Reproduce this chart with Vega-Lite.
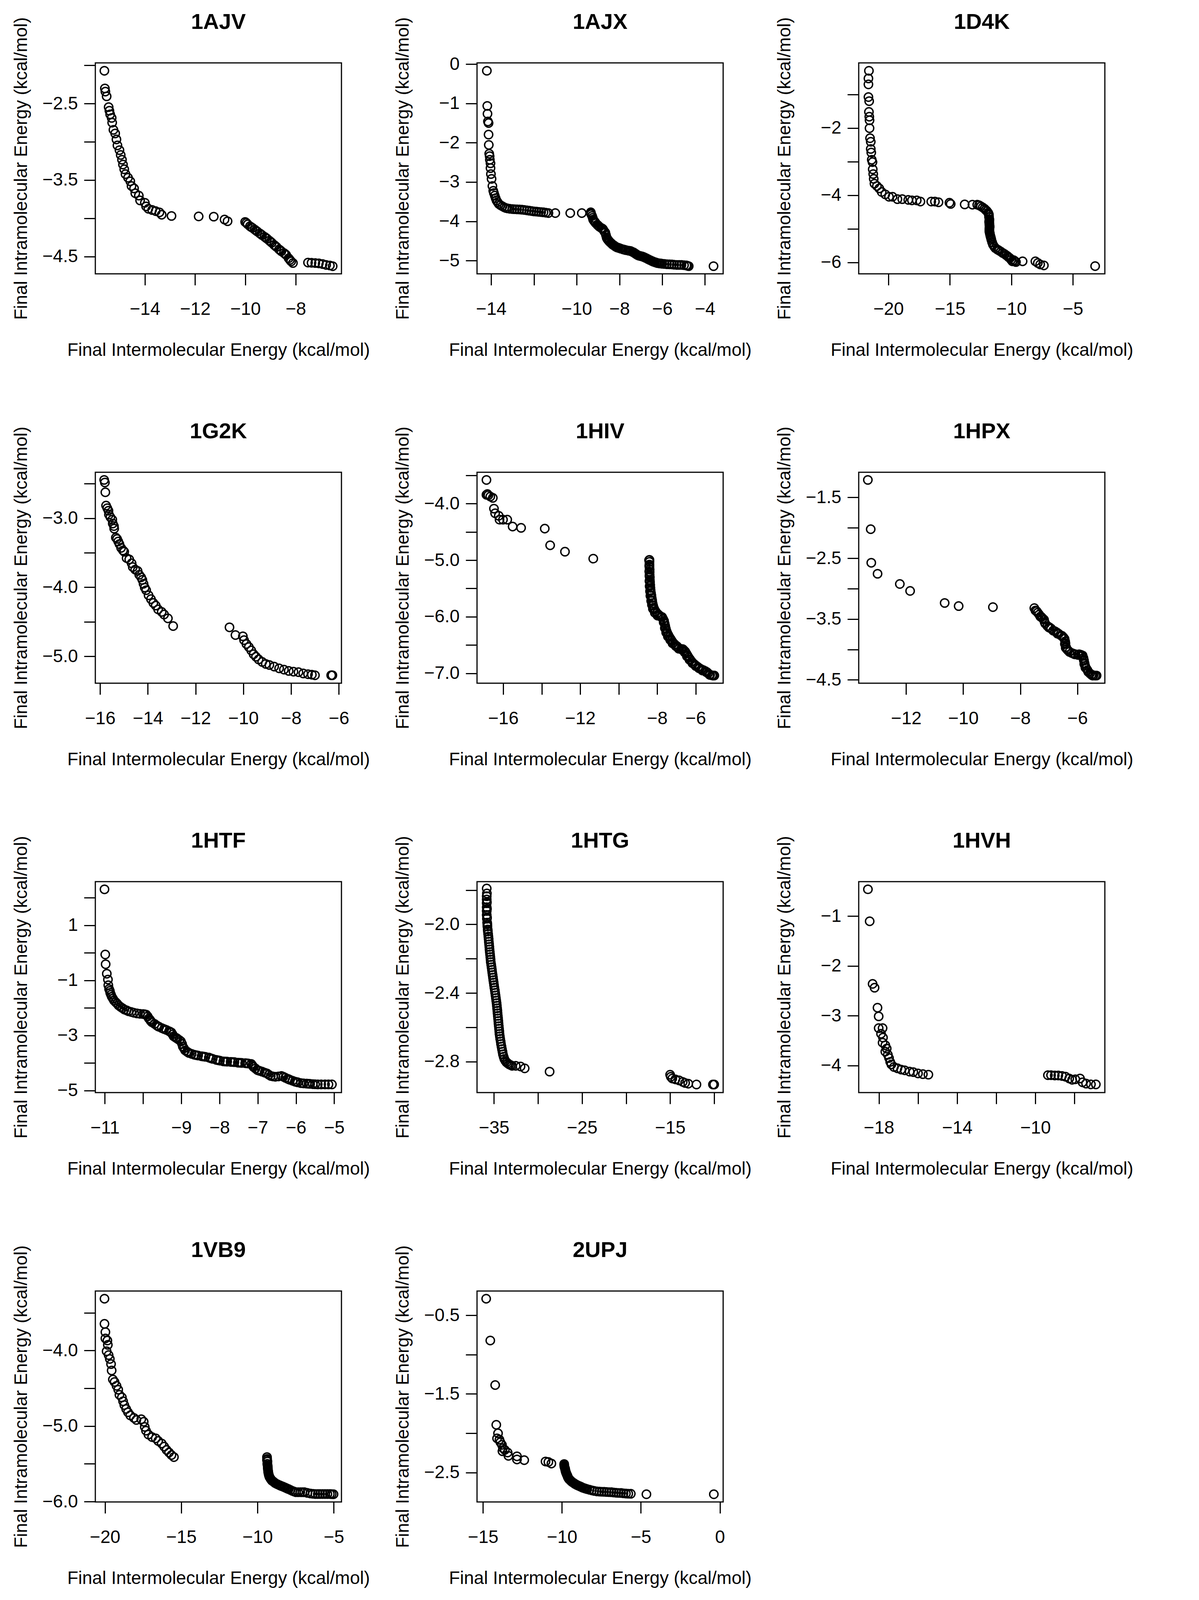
{
  "$schema": "https://vega.github.io/schema/vega-lite/v6.json",
  "background": "white",
  "padding": {"left": 29, "top": 27, "right": 0, "bottom": 0},
  "columns": 3,
  "spacing": {"row": 508, "column": 347},
  "bounds": "flush",
  "config": {
    "font": "Liberation Sans",
    "view": {"stroke": "black", "strokeWidth": 3, "continuousWidth": 630, "continuousHeight": 540},
    "axis": {
      "domain": false, "grid": false, "ticks": true, "tickSize": 29, "tickWidth": 3, "tickColor": "black",
      "labelFont": "Liberation Sans", "labelFontSize": 46, "labelColor": "black",
      "labelOverlap": false, "labelFlush": false, "labelBound": false,
      "titleFont": "Liberation Sans", "titleFontSize": 46, "titleFontWeight": "normal", "titleColor": "black"
    },
    "axisX": {"labelPadding": 39, "titleY": 209, "titleBaseline": "alphabetic", "titleAnchor": "middle"},
    "axisY": {"labelPadding": 16, "titleX": -176, "titleBaseline": "alphabetic", "labelAngle": 0, "titleAnchor": "middle"},
    "title": {"font": "Liberation Sans", "fontSize": 56, "fontWeight": "bold", "color": "black", "anchor": "middle", "frame": "group", "baseline": "alphabetic", "offset": -42},
    "point": {"shape": "circle", "filled": false, "size": 460, "strokeWidth": 3.5, "color": "black", "opacity": 1}
  },
  "concat": [
    {
      "title": "1AJV",
      "data": {"values": [
        {"inter": -15.61, "intra": -2.072}, {"inter": -15.59, "intra": -2.303}, {"inter": -15.57, "intra": -2.344}, {"inter": -15.52, "intra": -2.406},
        {"inter": -15.44, "intra": -2.547}, {"inter": -15.41, "intra": -2.594}, {"inter": -15.38, "intra": -2.641}, {"inter": -15.32, "intra": -2.688},
        {"inter": -15.30, "intra": -2.75}, {"inter": -15.25, "intra": -2.844}, {"inter": -15.18, "intra": -2.891}, {"inter": -15.13, "intra": -2.969},
        {"inter": -15.09, "intra": -3.047}, {"inter": -15.01, "intra": -3.109}, {"inter": -14.96, "intra": -3.172}, {"inter": -14.91, "intra": -3.234},
        {"inter": -14.87, "intra": -3.297}, {"inter": -14.82, "intra": -3.359}, {"inter": -14.77, "intra": -3.422}, {"inter": -14.67, "intra": -3.469},
        {"inter": -14.58, "intra": -3.516}, {"inter": -14.53, "intra": -3.578}, {"inter": -14.43, "intra": -3.609}, {"inter": -14.38, "intra": -3.672},
        {"inter": -14.24, "intra": -3.703}, {"inter": -14.19, "intra": -3.766}, {"inter": -14.00, "intra": -3.797}, {"inter": -13.95, "intra": -3.844},
        {"inter": -13.86, "intra": -3.875}, {"inter": -13.71, "intra": -3.891}, {"inter": -13.57, "intra": -3.906}, {"inter": -13.42, "intra": -3.922},
        {"inter": -13.33, "intra": -3.953}, {"inter": -12.94, "intra": -3.969}, {"inter": -11.86, "intra": -3.975}, {"inter": -11.26, "intra": -3.978},
        {"inter": -10.83, "intra": -4.016}, {"inter": -10.71, "intra": -4.038},
        {"inter": -10.01, "intra": -4.047}, {"inter": -9.96, "intra": -4.06}, {"inter": -9.91, "intra": -4.078}, {"inter": -9.82, "intra": -4.103},
        {"inter": -9.77, "intra": -4.115}, {"inter": -9.72, "intra": -4.125}, {"inter": -9.63, "intra": -4.147}, {"inter": -9.58, "intra": -4.16},
        {"inter": -9.53, "intra": -4.172}, {"inter": -9.43, "intra": -4.197}, {"inter": -9.38, "intra": -4.208}, {"inter": -9.34, "intra": -4.219},
        {"inter": -9.24, "intra": -4.241}, {"inter": -9.19, "intra": -4.254}, {"inter": -9.14, "intra": -4.266}, {"inter": -9.05, "intra": -4.291},
        {"inter": -9.00, "intra": -4.305}, {"inter": -8.95, "intra": -4.319}, {"inter": -8.86, "intra": -4.347}, {"inter": -8.81, "intra": -4.361},
        {"inter": -8.76, "intra": -4.375}, {"inter": -8.66, "intra": -4.406}, {"inter": -8.61, "intra": -4.419}, {"inter": -8.57, "intra": -4.431},
        {"inter": -8.47, "intra": -4.453}, {"inter": -8.42, "intra": -4.466}, {"inter": -8.38, "intra": -4.478}, {"inter": -8.28, "intra": -4.522},
        {"inter": -8.23, "intra": -4.543}, {"inter": -8.18, "intra": -4.563}, {"inter": -8.11, "intra": -4.584},
        {"inter": -7.51, "intra": -4.578}, {"inter": -7.37, "intra": -4.581}, {"inter": -7.22, "intra": -4.584}, {"inter": -7.08, "intra": -4.588},
        {"inter": -6.93, "intra": -4.597}, {"inter": -6.79, "intra": -4.609}, {"inter": -6.64, "intra": -4.616}, {"inter": -6.53, "intra": -4.625}
      ]},
      "mark": "point",
      "encoding": {
        "x": {"field": "inter", "type": "quantitative", "title": "Final Intermolecular Energy (kcal/mol)",
              "scale": {"domain": [-15.97, -6.18], "nice": false, "zero": false},
              "axis": {"values": [-14, -12, -10, -8], "format": "d"}},
        "y": {"field": "intra", "type": "quantitative", "title": "Final Intramolecular Energy (kcal/mol)",
              "scale": {"domain": [-4.725, -1.969], "nice": false, "zero": false},
              "axis": {"values": [-2, -2.5, -3, -3.5, -4, -4.5], "format": ".1f", "labelExpr": "indexof([-2, -3, -4], datum.value) >= 0 ? '' : datum.label"}}
      }
    },
    {
      "title": "1AJX",
      "data": {"values": [
        {"inter": -14.20, "intra": -0.170}, {"inter": -14.18, "intra": -1.064}, {"inter": -14.17, "intra": -1.265}, {"inter": -14.15, "intra": -1.46},
        {"inter": -14.12, "intra": -1.50}, {"inter": -14.12, "intra": -1.794}, {"inter": -14.11, "intra": -2.056}, {"inter": -14.09, "intra": -2.281},
        {"inter": -14.07, "intra": -2.342}, {"inter": -14.06, "intra": -2.433}, {"inter": -14.03, "intra": -2.524}, {"inter": -14.03, "intra": -2.646},
        {"inter": -14.01, "intra": -2.798}, {"inter": -13.98, "intra": -2.920}, {"inter": -13.94, "intra": -3.102}, {"inter": -13.90, "intra": -3.224},
        {"inter": -13.87, "intra": -3.28}, {"inter": -13.83, "intra": -3.345}, {"inter": -13.79, "intra": -3.41}, {"inter": -13.75, "intra": -3.467},
        {"inter": -13.70, "intra": -3.51}, {"inter": -13.64, "intra": -3.558}, {"inter": -13.56, "intra": -3.59}, {"inter": -13.47, "intra": -3.619},
        {"inter": -13.38, "intra": -3.645}, {"inter": -13.30, "intra": -3.662}, {"inter": -13.22, "intra": -3.672}, {"inter": -13.13, "intra": -3.680},
        {"inter": -13.01, "intra": -3.688}, {"inter": -12.90, "intra": -3.692}, {"inter": -12.79, "intra": -3.695}, {"inter": -12.68, "intra": -3.698},
        {"inter": -12.56, "intra": -3.704}, {"inter": -12.45, "intra": -3.710}, {"inter": -12.33, "intra": -3.72}, {"inter": -12.22, "intra": -3.729},
        {"inter": -12.11, "intra": -3.738}, {"inter": -12.00, "intra": -3.747}, {"inter": -11.88, "intra": -3.753}, {"inter": -11.77, "intra": -3.759},
        {"inter": -11.66, "intra": -3.765}, {"inter": -11.55, "intra": -3.771}, {"inter": -11.44, "intra": -3.78}, {"inter": -11.32, "intra": -3.79},
        {"inter": -11.00, "intra": -3.79}, {"inter": -10.30, "intra": -3.79}, {"inter": -9.76, "intra": -3.79},
        {"inter": -9.34, "intra": -3.771}, {"inter": -9.32, "intra": -3.82}, {"inter": -9.28, "intra": -3.863}, {"inter": -9.23, "intra": -3.954},
        {"inter": -9.17, "intra": -4.00}, {"inter": -9.11, "intra": -4.045}, {"inter": -9.03, "intra": -4.09}, {"inter": -8.94, "intra": -4.136},
        {"inter": -8.85, "intra": -4.17}, {"inter": -8.77, "intra": -4.197}, {"inter": -8.72, "intra": -4.245}, {"inter": -8.66, "intra": -4.288},
        {"inter": -8.60, "intra": -4.410}, {"inter": -8.55, "intra": -4.46}, {"inter": -8.49, "intra": -4.501}, {"inter": -8.40, "intra": -4.55},
        {"inter": -8.32, "intra": -4.592}, {"inter": -8.24, "intra": -4.62}, {"inter": -8.15, "intra": -4.653}, {"inter": -8.04, "intra": -4.675},
        {"inter": -7.93, "intra": -4.696}, {"inter": -7.82, "intra": -4.715}, {"inter": -7.70, "intra": -4.732}, {"inter": -7.58, "intra": -4.745},
        {"inter": -7.47, "intra": -4.757}, {"inter": -7.38, "intra": -4.78}, {"inter": -7.30, "intra": -4.805}, {"inter": -7.22, "intra": -4.835},
        {"inter": -7.13, "intra": -4.866}, {"inter": -7.02, "intra": -4.882}, {"inter": -6.91, "intra": -4.897}, {"inter": -6.80, "intra": -4.925},
        {"inter": -6.68, "intra": -4.957}, {"inter": -6.56, "intra": -4.99}, {"inter": -6.45, "intra": -5.018}, {"inter": -6.34, "intra": -5.04},
        {"inter": -6.23, "intra": -5.061}, {"inter": -6.11, "intra": -5.07}, {"inter": -6.00, "intra": -5.079}, {"inter": -5.78, "intra": -5.091},
        {"inter": -5.55, "intra": -5.097}, {"inter": -5.32, "intra": -5.109}, {"inter": -5.10, "intra": -5.109}, {"inter": -4.87, "intra": -5.122},
        {"inter": -4.76, "intra": -5.140}, {"inter": -3.60, "intra": -5.140},
        {"inter": -9.33, "intra": -3.80}, {"inter": -9.25, "intra": -3.91}, {"inter": -9.20, "intra": -3.98}, {"inter": -9.14, "intra": -4.02},
        {"inter": -8.99, "intra": -4.11}, {"inter": -8.81, "intra": -4.18}, {"inter": -8.69, "intra": -4.27}, {"inter": -8.63, "intra": -4.35},
        {"inter": -8.58, "intra": -4.435}, {"inter": -8.52, "intra": -4.48}, {"inter": -8.45, "intra": -4.525}, {"inter": -8.36, "intra": -4.57},
        {"inter": -8.28, "intra": -4.605}, {"inter": -8.20, "intra": -4.636}, {"inter": -8.10, "intra": -4.665}, {"inter": -7.98, "intra": -4.686},
        {"inter": -7.76, "intra": -4.724}, {"inter": -7.52, "intra": -4.751}, {"inter": -7.34, "intra": -4.79}, {"inter": -7.26, "intra": -4.82},
        {"inter": -7.18, "intra": -4.85}, {"inter": -7.08, "intra": -4.875}, {"inter": -6.96, "intra": -4.89}, {"inter": -6.86, "intra": -4.91},
        {"inter": -6.74, "intra": -4.94}, {"inter": -6.62, "intra": -4.975}, {"inter": -6.50, "intra": -5.005}, {"inter": -6.40, "intra": -5.03},
        {"inter": -6.28, "intra": -5.05}, {"inter": -6.17, "intra": -5.066}, {"inter": -6.05, "intra": -5.075}, {"inter": -5.89, "intra": -5.085},
        {"inter": -5.66, "intra": -5.094}, {"inter": -5.44, "intra": -5.103}, {"inter": -5.21, "intra": -5.109}, {"inter": -4.98, "intra": -5.115},
        {"inter": -4.82, "intra": -5.13}
      ]},
      "mark": "point",
      "encoding": {
        "x": {"field": "inter", "type": "quantitative", "title": "Final Intermolecular Energy (kcal/mol)",
              "scale": {"domain": [-14.66, -3.15], "nice": false, "zero": false},
              "axis": {"values": [-14, -12, -10, -8, -6, -4], "format": "d", "labelExpr": "indexof([-12], datum.value) >= 0 ? '' : datum.label"}},
        "y": {"field": "intra", "type": "quantitative", "title": "Final Intramolecular Energy (kcal/mol)",
              "scale": {"domain": [-5.335, 0.03], "nice": false, "zero": false},
              "axis": {"values": [0, -1, -2, -3, -4, -5], "format": "d"}}
      }
    },
    {
      "title": "1D4K",
      "data": {"values": [
        {"inter": -21.59, "intra": -0.295}, {"inter": -21.63, "intra": -0.523}, {"inter": -21.63, "intra": -0.70}, {"inter": -21.63, "intra": -1.078},
        {"inter": -21.57, "intra": -1.199}, {"inter": -21.59, "intra": -1.52}, {"inter": -21.56, "intra": -1.662}, {"inter": -21.54, "intra": -1.769},
        {"inter": -21.54, "intra": -2.004}, {"inter": -21.50, "intra": -2.302}, {"inter": -21.44, "intra": -2.409}, {"inter": -21.44, "intra": -2.623},
        {"inter": -21.40, "intra": -2.73}, {"inter": -21.36, "intra": -2.943}, {"inter": -21.30, "intra": -3.014}, {"inter": -21.28, "intra": -3.228},
        {"inter": -21.24, "intra": -3.370}, {"inter": -21.20, "intra": -3.512}, {"inter": -21.14, "intra": -3.655}, {"inter": -20.94, "intra": -3.726},
        {"inter": -20.75, "intra": -3.797}, {"inter": -20.55, "intra": -3.904}, {"inter": -20.26, "intra": -3.975}, {"inter": -19.96, "intra": -4.046},
        {"inter": -19.67, "intra": -4.046}, {"inter": -19.27, "intra": -4.117}, {"inter": -18.88, "intra": -4.117}, {"inter": -18.39, "intra": -4.139},
        {"inter": -18.09, "intra": -4.153}, {"inter": -17.70, "intra": -4.153}, {"inter": -17.40, "intra": -4.189}, {"inter": -16.52, "intra": -4.189},
        {"inter": -16.22, "intra": -4.189}, {"inter": -15.93, "intra": -4.21}, {"inter": -15.04, "intra": -4.224}, {"inter": -14.94, "intra": -4.26},
        {"inter": -13.80, "intra": -4.274}, {"inter": -13.17, "intra": -4.281},
        {"inter": -12.78, "intra": -4.281}, {"inter": -12.48, "intra": -4.331}, {"inter": -12.19, "intra": -4.402}, {"inter": -11.99, "intra": -4.473},
        {"inter": -11.89, "intra": -4.523}, {"inter": -11.83, "intra": -4.580}, {"inter": -11.81, "intra": -4.794}, {"inter": -11.79, "intra": -4.722},
        {"inter": -11.79, "intra": -4.865}, {"inter": -11.77, "intra": -4.936}, {"inter": -11.79, "intra": -5.007}, {"inter": -11.79, "intra": -5.078},
        {"inter": -11.75, "intra": -5.149}, {"inter": -11.69, "intra": -5.242}, {"inter": -11.63, "intra": -5.327}, {"inter": -11.50, "intra": -5.470},
        {"inter": -11.30, "intra": -5.577}, {"inter": -11.16, "intra": -5.612}, {"inter": -11.00, "intra": -5.648}, {"inter": -10.71, "intra": -5.719},
        {"inter": -10.41, "intra": -5.790}, {"inter": -10.22, "intra": -5.847}, {"inter": -10.12, "intra": -5.875}, {"inter": -9.92, "intra": -5.968},
        {"inter": -9.82, "intra": -5.932}, {"inter": -9.63, "intra": -5.989}, {"inter": -9.09, "intra": -5.968},
        {"inter": -8.05, "intra": -5.968}, {"inter": -7.85, "intra": -6.018}, {"inter": -7.66, "intra": -6.061}, {"inter": -7.36, "intra": -6.089},
        {"inter": -3.19, "intra": -6.11},
        {"inter": -12.63, "intra": -4.30}, {"inter": -12.33, "intra": -4.365}, {"inter": -12.09, "intra": -4.44}, {"inter": -11.86, "intra": -4.55},
        {"inter": -11.82, "intra": -4.65}, {"inter": -11.80, "intra": -4.76}, {"inter": -11.80, "intra": -4.83}, {"inter": -11.78, "intra": -4.90},
        {"inter": -11.78, "intra": -4.97}, {"inter": -11.79, "intra": -5.04}, {"inter": -11.77, "intra": -5.11}, {"inter": -11.72, "intra": -5.20},
        {"inter": -11.66, "intra": -5.28}, {"inter": -11.57, "intra": -5.40}, {"inter": -11.40, "intra": -5.53}, {"inter": -11.08, "intra": -5.63},
        {"inter": -10.86, "intra": -5.68}, {"inter": -10.56, "intra": -5.75}, {"inter": -10.30, "intra": -5.82}, {"inter": -10.02, "intra": -5.92},
        {"inter": -9.72, "intra": -5.96}
      ]},
      "mark": "point",
      "encoding": {
        "x": {"field": "inter", "type": "quantitative", "title": "Final Intermolecular Energy (kcal/mol)",
              "scale": {"domain": [-22.42, -2.40], "nice": false, "zero": false},
              "axis": {"values": [-20, -15, -10, -5], "format": "d"}},
        "y": {"field": "intra", "type": "quantitative", "title": "Final Intramolecular Energy (kcal/mol)",
              "scale": {"domain": [-6.34, -0.06], "nice": false, "zero": false},
              "axis": {"values": [-1, -2, -3, -4, -5, -6], "format": "d", "labelExpr": "indexof([-1, -3, -5], datum.value) >= 0 ? '' : datum.label"}}
      }
    },
    {
      "title": "1G2K",
      "data": {"values": [
        {"inter": -15.83, "intra": -2.444}, {"inter": -15.80, "intra": -2.481}, {"inter": -15.78, "intra": -2.623}, {"inter": -15.75, "intra": -2.816},
        {"inter": -15.70, "intra": -2.853}, {"inter": -15.65, "intra": -2.890}, {"inter": -15.63, "intra": -2.946}, {"inter": -15.57, "intra": -2.983},
        {"inter": -15.49, "intra": -3.020}, {"inter": -15.47, "intra": -3.076}, {"inter": -15.42, "intra": -3.113}, {"inter": -15.41, "intra": -3.150},
        {"inter": -15.34, "intra": -3.280}, {"inter": -15.29, "intra": -3.299}, {"inter": -15.24, "intra": -3.336}, {"inter": -15.19, "intra": -3.373},
        {"inter": -15.12, "intra": -3.429}, {"inter": -15.04, "intra": -3.466}, {"inter": -14.99, "intra": -3.484}, {"inter": -14.89, "intra": -3.577},
        {"inter": -14.78, "intra": -3.596}, {"inter": -14.68, "intra": -3.652}, {"inter": -14.63, "intra": -3.707}, {"inter": -14.53, "intra": -3.744},
        {"inter": -14.43, "intra": -3.763}, {"inter": -14.36, "intra": -3.819}, {"inter": -14.28, "intra": -3.856}, {"inter": -14.23, "intra": -3.893},
        {"inter": -14.18, "intra": -3.949}, {"inter": -14.13, "intra": -4.004}, {"inter": -14.07, "intra": -4.042}, {"inter": -13.97, "intra": -4.116},
        {"inter": -13.87, "intra": -4.172}, {"inter": -13.77, "intra": -4.227}, {"inter": -13.67, "intra": -4.265}, {"inter": -13.57, "intra": -4.320},
        {"inter": -13.42, "intra": -4.357}, {"inter": -13.32, "intra": -4.394}, {"inter": -13.16, "intra": -4.45}, {"inter": -12.94, "intra": -4.562},
        {"inter": -10.58, "intra": -4.580}, {"inter": -10.33, "intra": -4.692}, {"inter": -10.02, "intra": -4.710}, {"inter": -9.97, "intra": -4.766},
        {"inter": -9.87, "intra": -4.822}, {"inter": -9.77, "intra": -4.866}, {"inter": -9.67, "intra": -4.915}, {"inter": -9.57, "intra": -4.970},
        {"inter": -9.47, "intra": -5.007}, {"inter": -9.36, "intra": -5.045}, {"inter": -9.21, "intra": -5.082}, {"inter": -9.06, "intra": -5.111},
        {"inter": -8.91, "intra": -5.126}, {"inter": -8.71, "intra": -5.149}, {"inter": -8.50, "intra": -5.175}, {"inter": -8.30, "intra": -5.193},
        {"inter": -8.10, "intra": -5.212}, {"inter": -7.90, "intra": -5.223}, {"inter": -7.69, "intra": -5.230}, {"inter": -7.49, "intra": -5.249},
        {"inter": -7.29, "intra": -5.260}, {"inter": -7.13, "intra": -5.267}, {"inter": -7.00, "intra": -5.275}, {"inter": -6.32, "intra": -5.275},
        {"inter": -6.27, "intra": -5.275}
      ]},
      "mark": "point",
      "encoding": {
        "x": {"field": "inter", "type": "quantitative", "title": "Final Intermolecular Energy (kcal/mol)",
              "scale": {"domain": [-16.20, -5.89], "nice": false, "zero": false},
              "axis": {"values": [-16, -14, -12, -10, -8, -6], "format": "d"}},
        "y": {"field": "intra", "type": "quantitative", "title": "Final Intramolecular Energy (kcal/mol)",
              "scale": {"domain": [-5.39, -2.333], "nice": false, "zero": false},
              "axis": {"values": [-2.5, -3, -3.5, -4, -4.5, -5], "format": ".1f", "labelExpr": "indexof([-2.5, -3.5, -4.5], datum.value) >= 0 ? '' : datum.label"}}
      }
    },
    {
      "title": "1HIV",
      "data": {"values": [
        {"inter": -16.87, "intra": -3.582}, {"inter": -16.87, "intra": -3.844}, {"inter": -16.82, "intra": -3.831}, {"inter": -16.77, "intra": -3.853},
        {"inter": -16.67, "intra": -3.876}, {"inter": -16.54, "intra": -3.899}, {"inter": -16.48, "intra": -4.089}, {"inter": -16.42, "intra": -4.171},
        {"inter": -16.23, "intra": -4.216}, {"inter": -16.19, "intra": -4.284}, {"inter": -16.01, "intra": -4.284}, {"inter": -15.79, "intra": -4.284},
        {"inter": -15.51, "intra": -4.406}, {"inter": -15.07, "intra": -4.429}, {"inter": -13.84, "intra": -4.442}, {"inter": -13.56, "intra": -4.737},
        {"inter": -12.79, "intra": -4.85}, {"inter": -11.32, "intra": -4.973},
        {"inter": -8.40, "intra": -4.995}, {"inter": -8.40, "intra": -5.03}, {"inter": -8.40, "intra": -5.077}, {"inter": -8.40, "intra": -5.12},
        {"inter": -8.39, "intra": -5.167}, {"inter": -8.39, "intra": -5.21}, {"inter": -8.39, "intra": -5.258}, {"inter": -8.38, "intra": -5.30},
        {"inter": -8.38, "intra": -5.349}, {"inter": -8.37, "intra": -5.39}, {"inter": -8.36, "intra": -5.439}, {"inter": -8.35, "intra": -5.49},
        {"inter": -8.34, "intra": -5.530}, {"inter": -8.32, "intra": -5.58}, {"inter": -8.30, "intra": -5.621}, {"inter": -8.28, "intra": -5.67},
        {"inter": -8.26, "intra": -5.711}, {"inter": -8.24, "intra": -5.76}, {"inter": -8.21, "intra": -5.802}, {"inter": -8.18, "intra": -5.84},
        {"inter": -8.14, "intra": -5.870}, {"inter": -8.08, "intra": -5.905}, {"inter": -8.01, "intra": -5.938}, {"inter": -7.94, "intra": -5.96},
        {"inter": -7.86, "intra": -5.983}, {"inter": -7.74, "intra": -6.006}, {"inter": -7.69, "intra": -6.04}, {"inter": -7.64, "intra": -6.074},
        {"inter": -7.61, "intra": -6.12}, {"inter": -7.58, "intra": -6.164}, {"inter": -7.55, "intra": -6.21}, {"inter": -7.51, "intra": -6.255},
        {"inter": -7.47, "intra": -6.29}, {"inter": -7.42, "intra": -6.323}, {"inter": -7.36, "intra": -6.36}, {"inter": -7.30, "intra": -6.391},
        {"inter": -7.24, "intra": -6.425}, {"inter": -7.17, "intra": -6.459}, {"inter": -7.08, "intra": -6.49}, {"inter": -6.98, "intra": -6.518},
        {"inter": -6.92, "intra": -6.54}, {"inter": -6.86, "intra": -6.563}, {"inter": -6.76, "intra": -6.57}, {"inter": -6.67, "intra": -6.572},
        {"inter": -6.60, "intra": -6.595}, {"inter": -6.54, "intra": -6.617}, {"inter": -6.48, "intra": -6.65}, {"inter": -6.42, "intra": -6.685},
        {"inter": -6.36, "intra": -6.72}, {"inter": -6.29, "intra": -6.753}, {"inter": -6.21, "intra": -6.79}, {"inter": -6.13, "intra": -6.821},
        {"inter": -6.05, "intra": -6.845}, {"inter": -5.97, "intra": -6.867}, {"inter": -5.88, "intra": -6.89}, {"inter": -5.79, "intra": -6.912},
        {"inter": -5.70, "intra": -6.93}, {"inter": -5.60, "intra": -6.944}, {"inter": -5.50, "intra": -6.96}, {"inter": -5.41, "intra": -6.980},
        {"inter": -5.35, "intra": -7.00}, {"inter": -5.28, "intra": -7.025}, {"inter": -5.15, "intra": -7.035}, {"inter": -5.03, "intra": -7.039},
        {"inter": -8.42, "intra": -5.0}, {"inter": -8.41, "intra": -5.1}, {"inter": -8.41, "intra": -5.2}, {"inter": -8.40, "intra": -5.28},
        {"inter": -8.40, "intra": -5.37}, {"inter": -8.39, "intra": -5.46}, {"inter": -8.37, "intra": -5.55}, {"inter": -8.35, "intra": -5.63},
        {"inter": -8.31, "intra": -5.72}, {"inter": -8.27, "intra": -5.79}, {"inter": -8.22, "intra": -5.86}, {"inter": -8.12, "intra": -5.93},
        {"inter": -7.98, "intra": -5.98}, {"inter": -7.80, "intra": -6.00}, {"inter": -7.66, "intra": -6.10}, {"inter": -7.60, "intra": -6.20},
        {"inter": -7.53, "intra": -6.28}, {"inter": -7.44, "intra": -6.35}, {"inter": -7.32, "intra": -6.41}, {"inter": -7.20, "intra": -6.47},
        {"inter": -7.03, "intra": -6.52}, {"inter": -6.88, "intra": -6.565}, {"inter": -6.72, "intra": -6.58}, {"inter": -6.57, "intra": -6.63},
        {"inter": -6.45, "intra": -6.70}, {"inter": -6.32, "intra": -6.76}, {"inter": -6.17, "intra": -6.82}, {"inter": -6.00, "intra": -6.87},
        {"inter": -5.83, "intra": -6.91}, {"inter": -5.65, "intra": -6.95}, {"inter": -5.45, "intra": -6.98}, {"inter": -5.25, "intra": -7.03},
        {"inter": -5.10, "intra": -7.04}
      ]},
      "mark": "point",
      "encoding": {
        "x": {"field": "inter", "type": "quantitative", "title": "Final Intermolecular Energy (kcal/mol)",
              "scale": {"domain": [-17.36, -4.57], "nice": false, "zero": false},
              "axis": {"values": [-16, -14, -12, -10, -8, -6], "format": "d", "labelExpr": "indexof([-14, -10], datum.value) >= 0 ? '' : datum.label"}},
        "y": {"field": "intra", "type": "quantitative", "title": "Final Intramolecular Energy (kcal/mol)",
              "scale": {"domain": [-7.175, -3.446], "nice": false, "zero": false},
              "axis": {"values": [-3.5, -4, -4.5, -5, -5.5, -6, -6.5, -7], "format": ".1f", "labelExpr": "indexof([-3.5, -4.5, -5.5, -6.5], datum.value) >= 0 ? '' : datum.label"}}
      }
    },
    {
      "title": "1HPX",
      "data": {"values": [
        {"inter": -13.34, "intra": -1.213}, {"inter": -13.24, "intra": -2.023}, {"inter": -13.22, "intra": -2.575}, {"inter": -13.00, "intra": -2.756},
        {"inter": -12.22, "intra": -2.924}, {"inter": -11.86, "intra": -3.038}, {"inter": -10.65, "intra": -3.236}, {"inter": -10.16, "intra": -3.287},
        {"inter": -8.96, "intra": -3.304},
        {"inter": -7.51, "intra": -3.320}, {"inter": -7.43, "intra": -3.371}, {"inter": -7.39, "intra": -3.396}, {"inter": -7.34, "intra": -3.426},
        {"inter": -7.26, "intra": -3.468}, {"inter": -7.22, "intra": -3.489}, {"inter": -7.17, "intra": -3.510}, {"inter": -7.13, "intra": -3.573},
        {"inter": -7.05, "intra": -3.615}, {"inter": -6.98, "intra": -3.637}, {"inter": -6.92, "intra": -3.658}, {"inter": -6.79, "intra": -3.700},
        {"inter": -6.72, "intra": -3.721}, {"inter": -6.66, "intra": -3.742}, {"inter": -6.54, "intra": -3.776}, {"inter": -6.49, "intra": -3.801},
        {"inter": -6.45, "intra": -3.826}, {"inter": -6.43, "intra": -3.868}, {"inter": -6.44, "intra": -3.910}, {"inter": -6.41, "intra": -3.974},
        {"inter": -6.37, "intra": -3.995}, {"inter": -6.33, "intra": -4.016}, {"inter": -6.20, "intra": -4.058}, {"inter": -6.13, "intra": -4.071},
        {"inter": -6.07, "intra": -4.079}, {"inter": -5.94, "intra": -4.079}, {"inter": -5.88, "intra": -4.088}, {"inter": -5.82, "intra": -4.100},
        {"inter": -5.79, "intra": -4.142}, {"inter": -5.77, "intra": -4.184}, {"inter": -5.75, "intra": -4.226}, {"inter": -5.73, "intra": -4.269},
        {"inter": -5.69, "intra": -4.311}, {"inter": -5.65, "intra": -4.340}, {"inter": -5.56, "intra": -4.395}, {"inter": -5.51, "intra": -4.416},
        {"inter": -5.44, "intra": -4.425}, {"inter": -5.33, "intra": -4.429},
        {"inter": -7.47, "intra": -3.36}, {"inter": -7.30, "intra": -3.46}, {"inter": -7.15, "intra": -3.55}, {"inter": -7.00, "intra": -3.64},
        {"inter": -6.85, "intra": -3.69}, {"inter": -6.70, "intra": -3.74}, {"inter": -6.58, "intra": -3.77}, {"inter": -6.47, "intra": -3.82},
        {"inter": -6.42, "intra": -3.90}, {"inter": -6.40, "intra": -3.96}, {"inter": -6.28, "intra": -4.04}, {"inter": -6.10, "intra": -4.08},
        {"inter": -5.98, "intra": -4.09}, {"inter": -5.85, "intra": -4.11}, {"inter": -5.78, "intra": -4.17}, {"inter": -5.76, "intra": -4.24},
        {"inter": -5.72, "intra": -4.30}, {"inter": -5.62, "intra": -4.37}, {"inter": -5.47, "intra": -4.43}, {"inter": -5.38, "intra": -4.43}
      ]},
      "mark": "point",
      "encoding": {
        "x": {"field": "inter", "type": "quantitative", "title": "Final Intermolecular Energy (kcal/mol)",
              "scale": {"domain": [-13.66, -5.04], "nice": false, "zero": false},
              "axis": {"values": [-12, -10, -8, -6], "format": "d"}},
        "y": {"field": "intra", "type": "quantitative", "title": "Final Intramolecular Energy (kcal/mol)",
              "scale": {"domain": [-4.555, -1.087], "nice": false, "zero": false},
              "axis": {"values": [-1.5, -2, -2.5, -3, -3.5, -4, -4.5], "format": ".1f", "labelExpr": "indexof([-2, -3, -4], datum.value) >= 0 ? '' : datum.label"}}
      }
    },
    {
      "title": "1HTF",
      "data": {"values": [
        {"inter": -11.01, "intra": 2.306}, {"inter": -10.99, "intra": -0.061}, {"inter": -10.98, "intra": -0.414}, {"inter": -10.95, "intra": -0.758},
        {"inter": -10.92, "intra": -0.971}, {"inter": -10.91, "intra": -1.176},
        {"inter": -10.89, "intra": -1.315}, {"inter": -10.86, "intra": -1.454}, {"inter": -10.82, "intra": -1.593}, {"inter": -10.76, "intra": -1.733},
        {"inter": -10.68, "intra": -1.844}, {"inter": -10.59, "intra": -1.965}, {"inter": -10.49, "intra": -2.058}, {"inter": -10.38, "intra": -2.123},
        {"inter": -10.24, "intra": -2.178}, {"inter": -10.08, "intra": -2.215}, {"inter": -10.00, "intra": -2.224}, {"inter": -9.92, "intra": -2.243},
        {"inter": -9.85, "intra": -2.383}, {"inter": -9.80, "intra": -2.475}, {"inter": -9.77, "intra": -2.522}, {"inter": -9.64, "intra": -2.642},
        {"inter": -9.58, "intra": -2.689}, {"inter": -9.51, "intra": -2.735}, {"inter": -9.39, "intra": -2.800}, {"inter": -9.32, "intra": -2.847},
        {"inter": -9.26, "intra": -2.893}, {"inter": -9.20, "intra": -3.032}, {"inter": -9.15, "intra": -3.079}, {"inter": -9.10, "intra": -3.125},
        {"inter": -9.01, "intra": -3.218}, {"inter": -8.96, "intra": -3.404}, {"inter": -8.90, "intra": -3.543}, {"inter": -8.85, "intra": -3.590},
        {"inter": -8.80, "intra": -3.636}, {"inter": -8.66, "intra": -3.701}, {"inter": -8.56, "intra": -3.729}, {"inter": -8.47, "intra": -3.757},
        {"inter": -8.37, "intra": -3.775}, {"inter": -8.28, "intra": -3.803}, {"inter": -8.18, "intra": -3.850}, {"inter": -8.09, "intra": -3.887},
        {"inter": -7.99, "intra": -3.915}, {"inter": -7.90, "intra": -3.942}, {"inter": -7.80, "intra": -3.952}, {"inter": -7.71, "intra": -3.961},
        {"inter": -7.61, "intra": -3.970}, {"inter": -7.52, "intra": -3.989}, {"inter": -7.42, "intra": -3.998}, {"inter": -7.33, "intra": -4.007},
        {"inter": -7.25, "intra": -4.017}, {"inter": -7.17, "intra": -4.035}, {"inter": -7.11, "intra": -4.147}, {"inter": -7.01, "intra": -4.258},
        {"inter": -6.95, "intra": -4.286}, {"inter": -6.89, "intra": -4.314}, {"inter": -6.76, "intra": -4.379}, {"inter": -6.66, "intra": -4.472},
        {"inter": -6.60, "intra": -4.490}, {"inter": -6.54, "intra": -4.500}, {"inter": -6.38, "intra": -4.472}, {"inter": -6.28, "intra": -4.537},
        {"inter": -6.22, "intra": -4.574}, {"inter": -6.16, "intra": -4.611}, {"inter": -6.03, "intra": -4.676}, {"inter": -5.95, "intra": -4.704},
        {"inter": -5.87, "intra": -4.732}, {"inter": -5.72, "intra": -4.750}, {"inter": -5.63, "intra": -4.760}, {"inter": -5.56, "intra": -4.769},
        {"inter": -5.43, "intra": -4.778}, {"inter": -5.34, "intra": -4.778}, {"inter": -5.24, "intra": -4.778}, {"inter": -5.15, "intra": -4.778},
        {"inter": -5.06, "intra": -4.778},
        {"inter": -10.87, "intra": -1.38}, {"inter": -10.84, "intra": -1.52}, {"inter": -10.79, "intra": -1.66}, {"inter": -10.72, "intra": -1.79},
        {"inter": -10.64, "intra": -1.91}, {"inter": -10.54, "intra": -2.01}, {"inter": -10.43, "intra": -2.09}, {"inter": -10.31, "intra": -2.15},
        {"inter": -10.16, "intra": -2.20}, {"inter": -9.96, "intra": -2.23}, {"inter": -9.88, "intra": -2.31}, {"inter": -9.82, "intra": -2.43},
        {"inter": -9.70, "intra": -2.58}, {"inter": -9.61, "intra": -2.67}, {"inter": -9.45, "intra": -2.77}, {"inter": -9.29, "intra": -2.87},
        {"inter": -9.23, "intra": -2.96}, {"inter": -9.12, "intra": -3.10}, {"inter": -9.05, "intra": -3.17}, {"inter": -8.98, "intra": -3.31},
        {"inter": -8.93, "intra": -3.47}, {"inter": -8.83, "intra": -3.61}, {"inter": -8.73, "intra": -3.67}, {"inter": -8.61, "intra": -3.715},
        {"inter": -8.42, "intra": -3.765}, {"inter": -8.23, "intra": -3.83}, {"inter": -8.04, "intra": -3.90}, {"inter": -7.85, "intra": -3.947},
        {"inter": -7.66, "intra": -3.965}, {"inter": -7.47, "intra": -3.993}, {"inter": -7.29, "intra": -4.012}, {"inter": -7.14, "intra": -4.09},
        {"inter": -7.06, "intra": -4.20}, {"inter": -6.98, "intra": -4.272}, {"inter": -6.82, "intra": -4.35}, {"inter": -6.71, "intra": -4.43},
        {"inter": -6.46, "intra": -4.49}, {"inter": -6.33, "intra": -4.50}, {"inter": -6.19, "intra": -4.59}, {"inter": -6.09, "intra": -4.645},
        {"inter": -5.99, "intra": -4.69}, {"inter": -5.80, "intra": -4.742}, {"inter": -5.67, "intra": -4.755}, {"inter": -5.50, "intra": -4.773}
      ]},
      "mark": "point",
      "encoding": {
        "x": {"field": "inter", "type": "quantitative", "title": "Final Intermolecular Energy (kcal/mol)",
              "scale": {"domain": [-11.25, -4.81], "nice": false, "zero": false},
              "axis": {"values": [-11, -10, -9, -8, -7, -6, -5], "format": "d", "labelExpr": "indexof([-10], datum.value) >= 0 ? '' : datum.label"}},
        "y": {"field": "intra", "type": "quantitative", "title": "Final Intramolecular Energy (kcal/mol)",
              "scale": {"domain": [-5.075, 2.585], "nice": false, "zero": false},
              "axis": {"values": [2, 1, 0, -1, -2, -3, -4, -5], "format": "d", "labelExpr": "indexof([2, 0, -2, -4], datum.value) >= 0 ? '' : datum.label"}}
      }
    },
    {
      "title": "1HTG",
      "data": {"values": [
        {"inter": -35.82, "intra": -1.791}, {"inter": -35.82, "intra": -1.836}, {"inter": -35.82, "intra": -1.855}, {"inter": -35.82, "intra": -1.877},
        {"inter": -35.82, "intra": -1.900}, {"inter": -35.82, "intra": -1.922}, {"inter": -35.82, "intra": -1.945}, {"inter": -35.80, "intra": -1.967},
        {"inter": -35.77, "intra": -1.990}, {"inter": -35.74, "intra": -2.012}, {"inter": -35.69, "intra": -2.041}, {"inter": -35.63, "intra": -2.071},
        {"inter": -35.58, "intra": -2.101}, {"inter": -35.52, "intra": -2.131}, {"inter": -35.47, "intra": -2.161}, {"inter": -35.41, "intra": -2.190},
        {"inter": -35.36, "intra": -2.220}, {"inter": -35.27, "intra": -2.250}, {"inter": -35.19, "intra": -2.280}, {"inter": -35.11, "intra": -2.310},
        {"inter": -35.03, "intra": -2.339}, {"inter": -34.95, "intra": -2.369}, {"inter": -34.86, "intra": -2.399}, {"inter": -34.78, "intra": -2.429},
        {"inter": -34.70, "intra": -2.459}, {"inter": -34.64, "intra": -2.489}, {"inter": -34.59, "intra": -2.518}, {"inter": -34.53, "intra": -2.548},
        {"inter": -34.48, "intra": -2.578}, {"inter": -34.42, "intra": -2.608}, {"inter": -34.37, "intra": -2.638}, {"inter": -34.29, "intra": -2.667},
        {"inter": -34.20, "intra": -2.697}, {"inter": -34.09, "intra": -2.727}, {"inter": -33.98, "intra": -2.757}, {"inter": -33.82, "intra": -2.784},
        {"inter": -33.57, "intra": -2.804}, {"inter": -33.27, "intra": -2.816}, {"inter": -32.94, "intra": -2.824}, {"inter": -32.53, "intra": -2.824},
        {"inter": -31.98, "intra": -2.828}, {"inter": -31.51, "intra": -2.839}, {"inter": -28.68, "intra": -2.858},
        {"inter": -15.00, "intra": -2.876}, {"inter": -14.92, "intra": -2.888}, {"inter": -14.75, "intra": -2.898}, {"inter": -14.40, "intra": -2.903},
        {"inter": -13.98, "intra": -2.909}, {"inter": -13.57, "intra": -2.918}, {"inter": -13.30, "intra": -2.924}, {"inter": -12.94, "intra": -2.928},
        {"inter": -12.01, "intra": -2.933}, {"inter": -10.14, "intra": -2.933}, {"inter": -10.00, "intra": -2.933},
        {"inter": -35.80, "intra": -1.82}, {"inter": -35.80, "intra": -1.87}, {"inter": -35.79, "intra": -1.91}, {"inter": -35.78, "intra": -1.96},
        {"inter": -35.75, "intra": -2.00}, {"inter": -35.71, "intra": -2.03}, {"inter": -35.66, "intra": -2.056}, {"inter": -35.60, "intra": -2.086},
        {"inter": -35.55, "intra": -2.116}, {"inter": -35.50, "intra": -2.146}, {"inter": -35.44, "intra": -2.175}, {"inter": -35.38, "intra": -2.205},
        {"inter": -35.31, "intra": -2.235}, {"inter": -35.23, "intra": -2.265}, {"inter": -35.15, "intra": -2.295}, {"inter": -35.07, "intra": -2.325},
        {"inter": -34.99, "intra": -2.354}, {"inter": -34.90, "intra": -2.384}, {"inter": -34.82, "intra": -2.414}, {"inter": -34.74, "intra": -2.444},
        {"inter": -34.67, "intra": -2.474}, {"inter": -34.61, "intra": -2.503}, {"inter": -34.56, "intra": -2.533}, {"inter": -34.50, "intra": -2.563},
        {"inter": -34.45, "intra": -2.593}, {"inter": -34.39, "intra": -2.623}, {"inter": -34.33, "intra": -2.652}, {"inter": -34.24, "intra": -2.682},
        {"inter": -34.14, "intra": -2.712}, {"inter": -34.03, "intra": -2.742}, {"inter": -33.90, "intra": -2.771}, {"inter": -33.70, "intra": -2.795},
        {"inter": -33.42, "intra": -2.81}, {"inter": -33.10, "intra": -2.82}
      ]},
      "mark": "point",
      "encoding": {
        "x": {"field": "inter", "type": "quantitative", "title": "Final Intermolecular Energy (kcal/mol)",
              "scale": {"domain": [-36.92, -8.98], "nice": false, "zero": false},
              "axis": {"values": [-35, -30, -25, -20, -15, -10], "format": "d", "labelExpr": "indexof([-30, -20, -10], datum.value) >= 0 ? '' : datum.label"}},
        "y": {"field": "intra", "type": "quantitative", "title": "Final Intramolecular Energy (kcal/mol)",
              "scale": {"domain": [-2.980, -1.751], "nice": false, "zero": false},
              "axis": {"values": [-1.8, -2.0, -2.2, -2.4, -2.6, -2.8], "format": ".1f", "labelExpr": "indexof([-1.8, -2.2, -2.6], datum.value) >= 0 ? '' : datum.label"}}
      }
    },
    {
      "title": "1HVH",
      "data": {"values": [
        {"inter": -18.56, "intra": -0.461}, {"inter": -18.47, "intra": -1.103}, {"inter": -18.32, "intra": -2.361}, {"inter": -18.22, "intra": -2.438},
        {"inter": -18.07, "intra": -2.839}, {"inter": -18.01, "intra": -3.013}, {"inter": -18.01, "intra": -3.250}, {"inter": -17.81, "intra": -3.250},
        {"inter": -17.89, "intra": -3.363}, {"inter": -17.79, "intra": -3.440}, {"inter": -17.81, "intra": -3.542}, {"inter": -17.67, "intra": -3.594},
        {"inter": -17.60, "intra": -3.660}, {"inter": -17.67, "intra": -3.722}, {"inter": -17.54, "intra": -3.784}, {"inter": -17.48, "intra": -3.850},
        {"inter": -17.42, "intra": -3.928}, {"inter": -17.36, "intra": -3.979}, {"inter": -17.23, "intra": -4.030}, {"inter": -17.05, "intra": -4.056},
        {"inter": -16.86, "intra": -4.082}, {"inter": -16.68, "intra": -4.097}, {"inter": -16.43, "intra": -4.123}, {"inter": -16.24, "intra": -4.133},
        {"inter": -16.00, "intra": -4.159}, {"inter": -15.75, "intra": -4.174}, {"inter": -15.47, "intra": -4.184},
        {"inter": -9.36, "intra": -4.195}, {"inter": -9.20, "intra": -4.195}, {"inter": -9.01, "intra": -4.200}, {"inter": -8.83, "intra": -4.200},
        {"inter": -8.64, "intra": -4.210}, {"inter": -8.46, "intra": -4.225}, {"inter": -8.27, "intra": -4.261}, {"inter": -8.12, "intra": -4.287},
        {"inter": -7.96, "intra": -4.277}, {"inter": -7.72, "intra": -4.261}, {"inter": -7.59, "intra": -4.338}, {"inter": -7.41, "intra": -4.364},
        {"inter": -7.16, "intra": -4.380}, {"inter": -6.91, "intra": -4.380}
      ]},
      "mark": "point",
      "encoding": {
        "x": {"field": "inter", "type": "quantitative", "title": "Final Intermolecular Energy (kcal/mol)",
              "scale": {"domain": [-19.03, -6.45], "nice": false, "zero": false},
              "axis": {"values": [-18, -16, -14, -12, -10, -8], "format": "d", "labelExpr": "indexof([-16, -12, -8], datum.value) >= 0 ? '' : datum.label"}},
        "y": {"field": "intra", "type": "quantitative", "title": "Final Intramolecular Energy (kcal/mol)",
              "scale": {"domain": [-4.544, -0.307], "nice": false, "zero": false},
              "axis": {"values": [-1, -2, -3, -4], "format": "d"}}
      }
    },
    {
      "title": "1VB9",
      "data": {"values": [
        {"inter": -20.03, "intra": -3.313}, {"inter": -20.03, "intra": -3.646}, {"inter": -19.97, "intra": -3.755}, {"inter": -19.97, "intra": -3.839},
        {"inter": -19.84, "intra": -3.867}, {"inter": -19.81, "intra": -3.924}, {"inter": -19.89, "intra": -4.009}, {"inter": -19.76, "intra": -4.060},
        {"inter": -19.68, "intra": -4.111}, {"inter": -19.60, "intra": -4.179}, {"inter": -19.56, "intra": -4.264}, {"inter": -19.48, "intra": -4.383},
        {"inter": -19.37, "intra": -4.416}, {"inter": -19.24, "intra": -4.467}, {"inter": -19.13, "intra": -4.518}, {"inter": -19.05, "intra": -4.586},
        {"inter": -18.89, "intra": -4.620}, {"inter": -18.81, "intra": -4.671}, {"inter": -18.73, "intra": -4.722}, {"inter": -18.61, "intra": -4.773},
        {"inter": -18.49, "intra": -4.817}, {"inter": -18.34, "intra": -4.858}, {"inter": -18.10, "intra": -4.892}, {"inter": -17.94, "intra": -4.919},
        {"inter": -17.62, "intra": -4.909}, {"inter": -17.46, "intra": -4.943}, {"inter": -17.39, "intra": -5.011}, {"inter": -17.31, "intra": -5.061},
        {"inter": -17.15, "intra": -5.112}, {"inter": -16.91, "intra": -5.146}, {"inter": -16.67, "intra": -5.163}, {"inter": -16.51, "intra": -5.197},
        {"inter": -16.28, "intra": -5.231}, {"inter": -16.12, "intra": -5.272}, {"inter": -15.96, "intra": -5.316}, {"inter": -15.80, "intra": -5.350},
        {"inter": -15.64, "intra": -5.384}, {"inter": -15.48, "intra": -5.411},
        {"inter": -9.38, "intra": -5.411}, {"inter": -9.37, "intra": -5.435}, {"inter": -9.35, "intra": -5.469}, {"inter": -9.33, "intra": -5.537},
        {"inter": -9.32, "intra": -5.571}, {"inter": -9.30, "intra": -5.605}, {"inter": -9.27, "intra": -5.639}, {"inter": -9.22, "intra": -5.672},
        {"inter": -9.14, "intra": -5.700}, {"inter": -9.06, "intra": -5.723}, {"inter": -8.94, "intra": -5.740}, {"inter": -8.83, "intra": -5.757},
        {"inter": -8.59, "intra": -5.781}, {"inter": -8.43, "intra": -5.795}, {"inter": -8.27, "intra": -5.808}, {"inter": -8.11, "intra": -5.822},
        {"inter": -7.96, "intra": -5.835}, {"inter": -7.72, "intra": -5.859}, {"inter": -7.48, "intra": -5.876}, {"inter": -7.20, "intra": -5.876},
        {"inter": -6.93, "intra": -5.876}, {"inter": -6.53, "intra": -5.893}, {"inter": -6.21, "intra": -5.900}, {"inter": -5.90, "intra": -5.900},
        {"inter": -5.58, "intra": -5.900}, {"inter": -5.26, "intra": -5.900}, {"inter": -5.02, "intra": -5.903},
        {"inter": -9.38, "intra": -5.45}, {"inter": -9.36, "intra": -5.50}, {"inter": -9.34, "intra": -5.52}, {"inter": -9.33, "intra": -5.555},
        {"inter": -9.31, "intra": -5.59}, {"inter": -9.29, "intra": -5.62}, {"inter": -9.25, "intra": -5.655}, {"inter": -9.18, "intra": -5.686},
        {"inter": -9.10, "intra": -5.71}, {"inter": -9.00, "intra": -5.73}, {"inter": -8.88, "intra": -5.75}, {"inter": -8.71, "intra": -5.77},
        {"inter": -8.51, "intra": -5.788}, {"inter": -8.35, "intra": -5.80}, {"inter": -8.19, "intra": -5.815}, {"inter": -8.03, "intra": -5.83},
        {"inter": -7.84, "intra": -5.847}, {"inter": -7.60, "intra": -5.868}, {"inter": -7.34, "intra": -5.876}, {"inter": -7.06, "intra": -5.876},
        {"inter": -6.73, "intra": -5.885}, {"inter": -6.37, "intra": -5.897}, {"inter": -6.05, "intra": -5.90}, {"inter": -5.74, "intra": -5.90},
        {"inter": -5.42, "intra": -5.90}, {"inter": -5.14, "intra": -5.902}
      ]},
      "mark": "point",
      "encoding": {
        "x": {"field": "inter", "type": "quantitative", "title": "Final Intermolecular Energy (kcal/mol)",
              "scale": {"domain": [-20.63, -4.50], "nice": false, "zero": false},
              "axis": {"values": [-20, -15, -10, -5], "format": "d"}},
        "y": {"field": "intra", "type": "quantitative", "title": "Final Intramolecular Energy (kcal/mol)",
              "scale": {"domain": [-6.005, -3.211], "nice": false, "zero": false},
              "axis": {"values": [-3.5, -4, -4.5, -5, -5.5, -6], "format": ".1f", "labelExpr": "indexof([-3.5, -4.5, -5.5], datum.value) >= 0 ? '' : datum.label"}}
      }
    },
    {
      "title": "2UPJ",
      "data": {"values": [
        {"inter": -14.80, "intra": -0.288}, {"inter": -14.54, "intra": -0.820}, {"inter": -14.23, "intra": -1.387}, {"inter": -14.16, "intra": -1.893},
        {"inter": -14.05, "intra": -2.001}, {"inter": -14.11, "intra": -2.066}, {"inter": -13.96, "intra": -2.082}, {"inter": -13.90, "intra": -2.115},
        {"inter": -13.80, "intra": -2.148}, {"inter": -13.74, "intra": -2.190}, {"inter": -13.77, "intra": -2.229}, {"inter": -13.62, "intra": -2.213},
        {"inter": -13.44, "intra": -2.246}, {"inter": -13.39, "intra": -2.288}, {"inter": -12.85, "intra": -2.294}, {"inter": -12.85, "intra": -2.334},
        {"inter": -12.39, "intra": -2.343}, {"inter": -11.04, "intra": -2.360}, {"inter": -10.86, "intra": -2.366}, {"inter": -10.67, "intra": -2.386},
        {"inter": -9.86, "intra": -2.392}, {"inter": -9.85, "intra": -2.418}, {"inter": -9.82, "intra": -2.441}, {"inter": -9.79, "intra": -2.464},
        {"inter": -9.76, "intra": -2.490}, {"inter": -9.71, "intra": -2.516}, {"inter": -9.66, "intra": -2.539}, {"inter": -9.62, "intra": -2.562},
        {"inter": -9.56, "intra": -2.582}, {"inter": -9.48, "intra": -2.598}, {"inter": -9.40, "intra": -2.614}, {"inter": -9.29, "intra": -2.630},
        {"inter": -9.17, "intra": -2.647}, {"inter": -9.06, "intra": -2.660}, {"inter": -8.94, "intra": -2.670}, {"inter": -8.83, "intra": -2.679},
        {"inter": -8.71, "intra": -2.692}, {"inter": -8.56, "intra": -2.702}, {"inter": -8.40, "intra": -2.712}, {"inter": -8.10, "intra": -2.728},
        {"inter": -7.79, "intra": -2.741}, {"inter": -7.48, "intra": -2.745}, {"inter": -7.18, "intra": -2.748}, {"inter": -6.87, "intra": -2.751},
        {"inter": -6.56, "intra": -2.758}, {"inter": -6.26, "intra": -2.761}, {"inter": -5.95, "intra": -2.768}, {"inter": -5.64, "intra": -2.771},
        {"inter": -4.65, "intra": -2.777}, {"inter": -0.38, "intra": -2.777},
        {"inter": -9.86, "intra": -2.405}, {"inter": -9.84, "intra": -2.43}, {"inter": -9.80, "intra": -2.452}, {"inter": -9.78, "intra": -2.477},
        {"inter": -9.74, "intra": -2.503}, {"inter": -9.69, "intra": -2.527}, {"inter": -9.64, "intra": -2.55}, {"inter": -9.59, "intra": -2.572},
        {"inter": -9.52, "intra": -2.59}, {"inter": -9.44, "intra": -2.606}, {"inter": -9.35, "intra": -2.622}, {"inter": -9.23, "intra": -2.638},
        {"inter": -9.11, "intra": -2.653}, {"inter": -9.00, "intra": -2.665}, {"inter": -8.88, "intra": -2.675}, {"inter": -8.77, "intra": -2.685},
        {"inter": -8.63, "intra": -2.697}, {"inter": -8.48, "intra": -2.707}, {"inter": -8.25, "intra": -2.72}, {"inter": -7.95, "intra": -2.735},
        {"inter": -7.63, "intra": -2.743}, {"inter": -7.33, "intra": -2.746}, {"inter": -7.02, "intra": -2.75}, {"inter": -6.71, "intra": -2.755},
        {"inter": -6.41, "intra": -2.76}, {"inter": -6.10, "intra": -2.765}, {"inter": -5.80, "intra": -2.77}
      ]},
      "mark": "point",
      "encoding": {
        "x": {"field": "inter", "type": "quantitative", "title": "Final Intermolecular Energy (kcal/mol)",
              "scale": {"domain": [-15.38, 0.21], "nice": false, "zero": false},
              "axis": {"values": [-15, -10, -5, 0], "format": "d"}},
        "y": {"field": "intra", "type": "quantitative", "title": "Final Intramolecular Energy (kcal/mol)",
              "scale": {"domain": [-2.875, -0.19], "nice": false, "zero": false},
              "axis": {"values": [-0.5, -1, -1.5, -2, -2.5], "format": ".1f", "labelExpr": "indexof([-1, -2], datum.value) >= 0 ? '' : datum.label"}}
      }
    }
  ]
}
